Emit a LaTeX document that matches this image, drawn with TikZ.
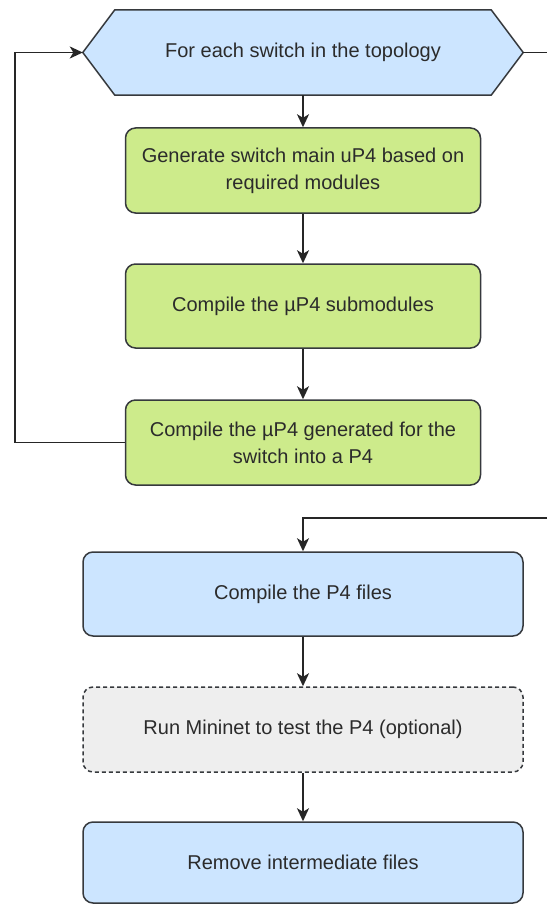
\documentclass[tikz,border=0pt]{standalone}
\usepackage{fontspec}
\setmainfont{Liberation Sans}
\usetikzlibrary{arrows.meta,calc}

\definecolor{bluefill}{HTML}{CCE5FF}
\definecolor{greenfill}{HTML}{CDEB8B}
\definecolor{greyfill}{HTML}{EEEEEE}
\definecolor{edgegrey}{HTML}{36393D}
\definecolor{textgrey}{HTML}{2B2B2B}

\tikzset{
  box/.style={rectangle, rounded corners=10pt, draw=edgegrey, line width=1.5pt,
    align=center, text=textgrey, inner sep=0pt,
    font=\fontsize{20}{27}\selectfont},
  greenbox/.style={box, fill=greenfill, minimum width=355pt, minimum height=85pt},
  bluebox/.style={box, fill=bluefill, minimum width=440pt, minimum height=84pt},
  optbox/.style={box, fill=greyfill, dash pattern=on 4pt off 3pt,
    minimum width=440pt, minimum height=85pt},
  hexlabel/.style={rectangle, draw=none, text=textgrey, inner sep=0pt,
    minimum width=440pt, minimum height=85pt,
    font=\fontsize{20}{27}\selectfont},
  hexedge/.style={draw=edgegrey, fill=bluefill, line width=1.5pt, line join=miter},
  conn/.style={draw=black!85, line width=1.6pt,
    -{Stealth[length=13pt,width=12pt,inset=3.5pt]}},
  plain/.style={draw=black!85, line width=1.6pt}
}

\begin{document}
\begin{tikzpicture}[x=1pt,y=-1pt]
  \useasboundingbox (0,0) rectangle (547,904);

  % loop header: hexagon drawn around its label node
  \node[hexlabel] (hex) at (303,52.5) {};
  \path[hexedge] (hex.west) -- ($(hex.north west)+(32,0)$) -- ($(hex.north east)+(-32,0)$)
    -- (hex.east) -- ($(hex.south east)+(-32,0)$) -- ($(hex.south west)+(32,0)$) -- cycle;
  \node[hexlabel] at (hex.center) {For each switch in the topology};

  % per-switch steps
  \node[greenbox] (gen) at (303,170.5) {Generate switch main uP4 based on\\required modules};
  \node[greenbox, minimum height=84pt] (sub) at (303,306) {Compile the µP4 submodules};
  \node[greenbox] (top4) at (303,442.5) {Compile the µP4 generated for the\\switch into a P4};

  % final steps
  \node[bluebox] (p4c) at (303,594) {Compile the P4 files};
  \node[optbox] (mn) at (303,729.5) {Run Mininet to test the P4 (optional)};
  \node[bluebox, minimum height=81pt] (clean) at (303,862.5) {Remove intermediate files};

  % loop exit runs off the right edge and comes back in
  \coordinate (exitR) at (547,52.5);
  \coordinate (entryR) at (547,518);

  % connectors
  \draw[conn] (hex.south) -- (gen.north);
  \draw[conn] (gen.south) -- (sub.north);
  \draw[conn] (sub.south) -- (top4.north);
  \draw[conn] (top4.west) -- ++(-110,0) |- (hex.west);
  \draw[plain] (hex.east) -- (exitR);
  \draw[conn] (entryR) -| (p4c.north);
  \draw[conn] (p4c.south) -- (mn.north);
  \draw[conn] (mn.south) -- (clean.north);
\end{tikzpicture}
\end{document}
